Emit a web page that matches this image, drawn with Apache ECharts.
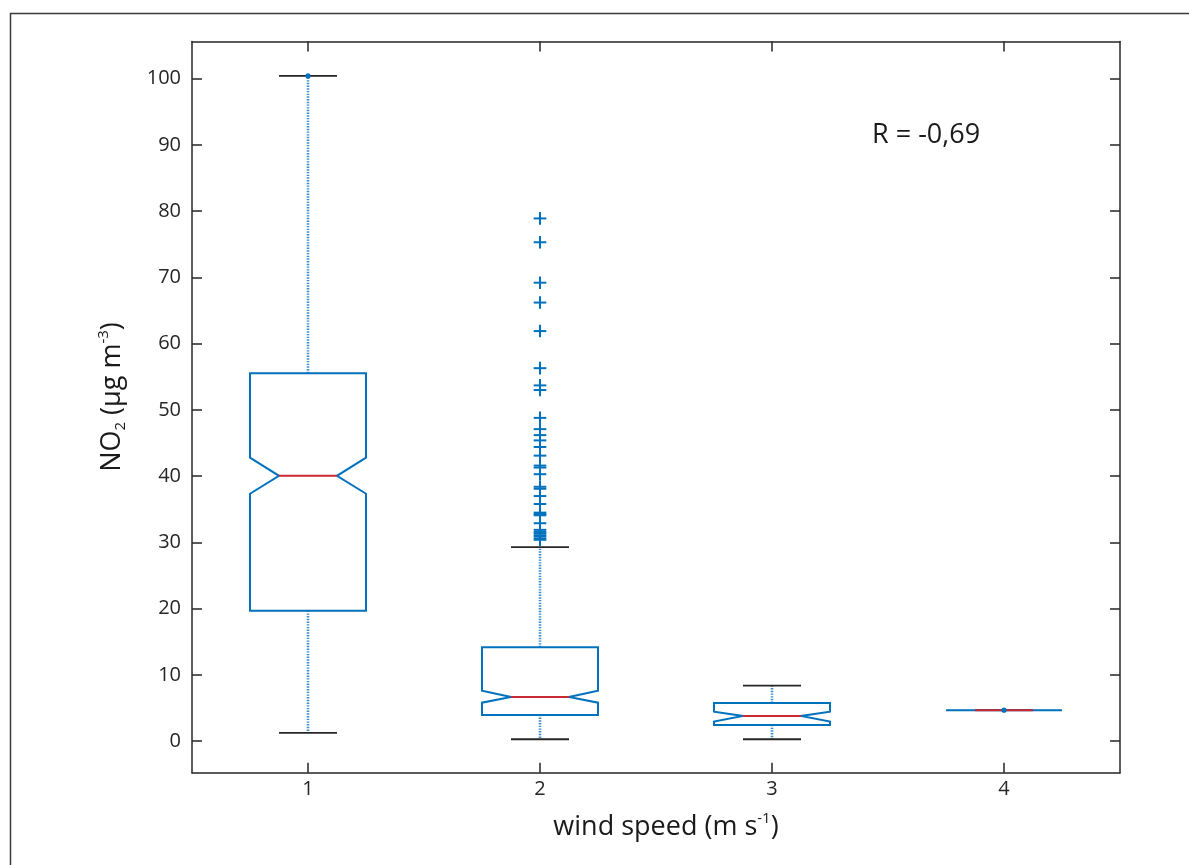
<!DOCTYPE html>
<html>
<head>
<meta charset="utf-8">
<script src="https://cdn.jsdelivr.net/npm/echarts@6/dist/echarts.min.js"></script>
<style>
  html, body { margin: 0; padding: 0; background: #ffffff; }
  #chart { width: 1189px; height: 865px; }
</style>
</head>
<body>
<div id="chart"></div>
<script>
// ---- data ----
const categories = ['1', '2', '3', '4'];
const upperWhisker = [100.4, 29.3, 8.4, 4.68];
const q3Values = [55.55, 14.18, 5.78, 4.68];
const notchHigh = [42.8, 7.63, 4.46, 4.68];
const medianValues = [40.06, 6.68, 3.82, 4.68];
const notchLow = [37.35, 5.82, 2.96, 4.68];
const q1Values = [19.7, 3.97, 2.46, 4.68];
const lowerWhisker = [1.25, 0.3, 0.3, 4.68];
// outliers of wind speed class "2"
const outliersCat2 = [78.9, 75.3, 69.2, 66.2, 61.9, 56.3, 53.7, 53.0, 48.8, 47.1, 46.2, 45.4, 44.4,
  43.1, 41.6, 41.3, 40.3, 38.4, 38.1, 37.0, 35.8, 34.5, 34.3, 34.1, 32.9, 31.9, 31.6, 31.4, 31.1,
  30.9, 30.6, 30.4];
// single data points drawn as dots
const dotCategories = [0, 3];
const dotValues = [100.4, 4.68];
const yTickValues = [0, 10, 20, 30, 40, 50, 60, 70, 80, 90, 100];
const rLabel = 'R = -0,69';

const FONT = '"Open Sans", "Noto Sans", sans-serif';
const BLUE = '#0072BD';
const RED = '#cc2936';
const DARK = '#262626';

const boxData = categories.map((c, i) => [i, lowerWhisker[i], q1Values[i], notchLow[i],
  medianValues[i], notchHigh[i], q3Values[i], upperWhisker[i]]);
const outlierData = outliersCat2.map(v => [1, v]);
const dotData = dotValues.map((v, k) => [dotCategories[k], v]);

function renderBox(params, api) {
  const i = api.value(0);
  const bw = api.size([1, 0])[0];
  const half = bw * 0.25;
  const nh = bw * 0.125;
  const cap = bw * 0.125;
  const cx = Math.round(api.coord([i, 0])[0]);
  const Y = v => api.coord([i, v])[1];
  const yLo = Y(api.value(1)), yQ1 = Y(api.value(2)), yNL = Y(api.value(3)),
        yMed = Y(api.value(4)), yNH = Y(api.value(5)), yQ3 = Y(api.value(6)), yHi = Y(api.value(7));
  const dotted = { stroke: '#3a8fd0', lineWidth: 2.6, lineDash: [1.4, 1.3], lineCap: 'butt' };
  const capStyle = { stroke: DARK, lineWidth: 1.8 };
  const children = [];
  if (yQ3 - yHi > 0.5) children.push({ type: 'line', shape: { x1: cx, y1: yQ3, x2: cx, y2: yHi }, style: dotted });
  if (yLo - yQ1 > 0.5) children.push({ type: 'line', shape: { x1: cx, y1: yQ1, x2: cx, y2: yLo }, style: dotted });
  children.push({ type: 'line', shape: { x1: cx - cap, y1: yHi, x2: cx + cap, y2: yHi }, style: capStyle });
  children.push({ type: 'line', shape: { x1: cx - cap, y1: yLo, x2: cx + cap, y2: yLo }, style: capStyle });
  children.push({
    type: 'polygon',
    shape: { points: [
      [cx - half, yQ3], [cx + half, yQ3], [cx + half, yNH], [cx + nh, yMed], [cx + half, yNL],
      [cx + half, yQ1], [cx - half, yQ1], [cx - half, yNL], [cx - nh, yMed], [cx - half, yNH]
    ] },
    style: { fill: 'none', stroke: BLUE, lineWidth: 2 }
  });
  children.push({ type: 'line', shape: { x1: cx - nh, y1: yMed, x2: cx + nh, y2: yMed }, style: { stroke: RED, lineWidth: 2 } });
  return { type: 'group', children };
}

function renderPlus(params, api) {
  const p = api.coord([api.value(0), api.value(1)]);
  const x = Math.round(p[0]);
  const s = 6.3;
  const st = { stroke: BLUE, lineWidth: 2 };
  return { type: 'group', children: [
    { type: 'line', shape: { x1: x - s, y1: p[1], x2: x + s, y2: p[1] }, style: st },
    { type: 'line', shape: { x1: x, y1: p[1] - s, x2: x, y2: p[1] + s }, style: st }
  ] };
}

function renderDot(params, api) {
  const p = api.coord([api.value(0), api.value(1)]);
  return { type: 'circle', shape: { cx: Math.round(p[0]), cy: p[1], r: 2.6 }, style: { fill: BLUE } };
}

const axisLineStyle = { color: DARK, width: 1.5 };
const chart = echarts.init(document.getElementById('chart'), null, { renderer: 'canvas' });
chart.setOption({
  animation: false,
  backgroundColor: '#ffffff',
  grid: { left: 192, right: 69, top: 41.5, bottom: 92.3, containLabel: false, outerBoundsMode: 'none' },
  xAxis: [
    {
      type: 'category', data: categories, position: 'bottom', boundaryGap: true,
      axisLine: { show: true, onZero: false, lineStyle: axisLineStyle },
      axisTick: { show: true, inside: true, length: 10, alignWithLabel: true, lineStyle: axisLineStyle },
      axisLabel: { show: true, color: DARK, fontSize: 20, fontFamily: FONT, margin: 7 },
      splitLine: { show: false }
    },
    {
      type: 'category', data: categories, position: 'top', boundaryGap: true,
      axisLine: { show: true, onZero: false, lineStyle: axisLineStyle },
      axisTick: { show: true, inside: true, length: 10, alignWithLabel: true, lineStyle: axisLineStyle },
      axisLabel: { show: false },
      splitLine: { show: false }
    }
  ],
  yAxis: [
    {
      type: 'value', min: -4.75, max: 105.6, position: 'left',
      axisLine: { show: true, onZero: false, lineStyle: axisLineStyle },
      axisTick: { show: true, inside: true, length: 10, lineStyle: axisLineStyle, customValues: yTickValues },
      axisLabel: { show: true, color: DARK, fontSize: 20, fontFamily: FONT, margin: 11, customValues: yTickValues },
      splitLine: { show: false }
    },
    {
      type: 'value', min: -4.75, max: 105.6, position: 'right',
      axisLine: { show: true, onZero: false, lineStyle: axisLineStyle },
      axisTick: { show: true, inside: true, length: 10, lineStyle: axisLineStyle, customValues: yTickValues },
      axisLabel: { show: false },
      splitLine: { show: false }
    }
  ],
  series: [
    { type: 'custom', name: 'boxes', xAxisIndex: 0, yAxisIndex: 0, data: boxData, renderItem: renderBox,
      encode: { x: 0, y: [1, 2, 3, 4, 5, 6, 7] }, z: 2 },
    { type: 'custom', name: 'outliers', xAxisIndex: 0, yAxisIndex: 0, data: outlierData, renderItem: renderPlus,
      encode: { x: 0, y: 1 }, z: 3 },
    { type: 'custom', name: 'dots', xAxisIndex: 0, yAxisIndex: 0, data: dotData, renderItem: renderDot,
      encode: { x: 0, y: 1 }, z: 4 }
  ],
  graphic: [
    { type: 'rect', left: 8, top: 11, shape: { width: 1300, height: 1000 }, silent: true,
      style: { fill: 'none', stroke: '#3a3a3a', lineWidth: 1.5 }, z: -1 },
    { type: 'text', x: 872, y: 135, silent: true,
      style: { text: rLabel, fill: '#1a1a1a', font: '27px ' + FONT, textAlign: 'left', textVerticalAlign: 'middle' } },
    { type: 'text', x: 666, y: 827, silent: true,
      style: {
        text: '{a|wind speed (m s}{s|-1}{a|)}',
        textAlign: 'center', textVerticalAlign: 'middle',
        rich: {
          a: { fontSize: 27, fontFamily: FONT, fill: '#1a1a1a', lineHeight: 32 },
          s: { fontSize: 15, fontFamily: FONT, fill: '#1a1a1a', lineHeight: 15, verticalAlign: 'top' }
        }
      } },
    { type: 'text', x: 112, y: 397, rotation: Math.PI / 2, silent: true,
      style: {
        text: '{a|NO}{b|2}{a| (µg m}{s|-3}{a|)}',
        textAlign: 'center', textVerticalAlign: 'middle',
        rich: {
          a: { fontSize: 27, fontFamily: FONT, fill: '#1a1a1a', lineHeight: 32 },
          b: { fontSize: 15, fontFamily: FONT, fill: '#1a1a1a', lineHeight: 15, verticalAlign: 'bottom' },
          s: { fontSize: 15, fontFamily: FONT, fill: '#1a1a1a', lineHeight: 15, verticalAlign: 'top' }
        }
      } }
  ]
});
</script>
</body>
</html>
